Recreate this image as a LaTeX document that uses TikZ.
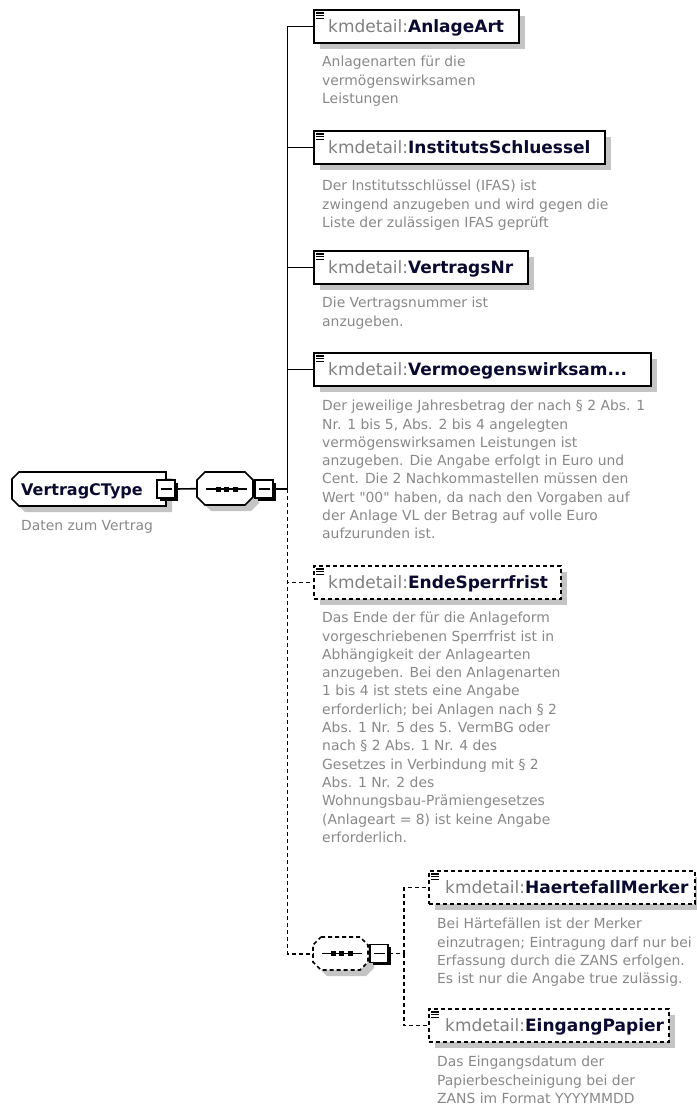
\documentclass[tikz,border=0pt]{standalone}
\usepackage{fontspec}
\setmainfont{DejaVu Sans}
\newfontfamily\dejavu{DejaVu Sans}
\usetikzlibrary{calc,shadows}
\definecolor{kmgray}{HTML}{808080}
\definecolor{namecol}{HTML}{0A0A30}
\definecolor{desccol}{HTML}{888888}
\definecolor{shadowgray}{HTML}{C4C4C4}
\tikzset{
  elbox/.style={rectangle, draw=black, line width=1.7pt, fill=white, inner sep=0pt,
    anchor=north west, minimum height=33pt,
    drop shadow={shadow xshift=6pt, shadow yshift=-6pt, fill=shadowgray, opacity=1}},
  optbox/.style={elbox, dash pattern=on 4pt off 3pt},
  minusbox/.style={rectangle, draw=black, line width=1.4pt, fill=white, inner sep=0pt,
    minimum size=18pt,
    drop shadow={shadow xshift=2.5pt, shadow yshift=-2.5pt, fill=black, opacity=1}},
  holder/.style={rectangle, draw=none, inner sep=0pt, anchor=north west},
  conn/.style={line width=1.6pt},
  dconn/.style={line width=1.6pt, dash pattern=on 4pt off 3pt},
  icon/.style={line width=1.1pt},
  titletxt/.style={inner sep=0pt, anchor=base west, font=\dejavu\fontsize{17}{20}\selectfont},
  desctxt/.style={inner sep=0pt, anchor=north west, align=left, text=desccol,
    font=\dejavu\fontsize{13.9}{18.3}\selectfont},
}
\newcommand\eqicon[1]{%
  \draw[icon] ($(#1.north west)+(3,4)$) -- +(8,0)
              ($(#1.north west)+(3,6.7)$) -- +(8,0)
              ($(#1.north west)+(3,9.4)$) -- +(8,0);}
\newcommand\kmtitle[1]{\textcolor{kmgray}{kmdetail:}\textcolor{namecol}{\bfseries #1}}
\begin{document}
\begin{tikzpicture}[x=1pt,y=-1pt]
\useasboundingbox (0,0) rectangle (696,1108);

% ---------- root ----------
\node[holder, minimum width=154pt, minimum height=34pt] (root) at (12,472) {};
\fill[shadowgray] (25,478) -- (172,478) -- (172,512) -- (25,512) -- (18,505) -- (18,485) -- cycle;
\draw[line width=1.7pt, fill=white] (19,472) -- (166,472) -- (166,506) -- (19,506) -- (12,499) -- (12,479) -- cycle;
\node[inner sep=0pt, anchor=base west, font=\dejavu\fontsize{16}{19}\selectfont\bfseries, text=namecol] (roottxt) at (21,495) {VertragCType};
\node[desctxt] (rootdesc) at (21,520) {Daten zum Vertrag};
\node[minusbox] (rootm) at (166,489) {};
\draw[line width=1.4pt] ($(rootm.center)+(-5.5,0)$) -- ($(rootm.center)+(5.5,0)$);

% ---------- sequence 1 ----------
\node[holder, minimum width=56pt, minimum height=33pt] (seq1) at (197,472) {};
\fill[shadowgray] (211,478) -- (253,478) -- (259,484) -- (259,503) -- (251,511) -- (211,511) -- (203,503) -- (203,484) -- cycle;
\draw[line width=1.6pt, fill=white] (205,472) -- (245,472) -- (253,480) -- (253,497) -- (245,505) -- (205,505) -- (197,497) -- (197,480) -- cycle;
\draw[line width=1.5pt] (206,489) -- (247,489);
\foreach \d in {218,226.5,235} \fill (\d-2.5,486.5) rectangle (\d+2.5,491.5);
\node[minusbox] (seq1m) at (264,489) {};
\draw[line width=1.4pt] ($(seq1m.center)+(-5.5,0)$) -- ($(seq1m.center)+(5.5,0)$);

\draw[conn] (rootm.east) -- (seq1.west);
\coordinate (trunk) at (287.5,489);
\draw[conn] (seq1m.east) -- (trunk);

% ---------- AnlageArt ----------
\node[elbox, minimum width=205pt] (anl) at (313,9) {};
\eqicon{anl}
\node[titletxt] (anlt) at ($(anl.north west)+(15,23.5)$) {\kmtitle{AnlageArt}};
\node[desctxt] (anld) at (322,56) {Anlagenarten für die\\vermögenswirksamen\\Leistungen};

% ---------- InstitutsSchluessel ----------
\node[elbox, minimum width=291pt] (ins) at (313,130) {};
\eqicon{ins}
\node[titletxt] (inst) at ($(ins.north west)+(15,23.5)$) {\kmtitle{InstitutsSchluessel}};
\node[desctxt] (insd) at (322,180) {Der Institutsschlüssel (IFAS) ist\\zwingend anzugeben und wird gegen die\\Liste der zulässigen IFAS geprüft};

% ---------- VertragsNr ----------
\node[elbox, minimum width=214pt] (vnr) at (313,250) {};
\eqicon{vnr}
\node[titletxt] (vnrt) at ($(vnr.north west)+(15,23.5)$) {\kmtitle{VertragsNr}};
\node[desctxt] (vnrd) at (322,297) {Die Vertragsnummer ist\\anzugeben.};

% ---------- Vermoegenswirksam ----------
\node[elbox, minimum width=337pt] (vwl) at (313,352) {};
\eqicon{vwl}
\node[titletxt] (vwlt) at ($(vwl.north west)+(15,23.5)$) {\kmtitle{Vermoegenswirksam...}};
\node[desctxt] (vwld) at (322,400) {Der jeweilige Jahresbetrag der nach § 2 Abs. 1\\Nr. 1 bis 5, Abs. 2 bis 4 angelegten\\vermögenswirksamen Leistungen ist\\anzugeben. Die Angabe erfolgt in Euro und\\Cent. Die 2 Nachkommastellen müssen den\\Wert "00" haben, da nach den Vorgaben auf\\der Anlage VL der Betrag auf volle Euro\\aufzurunden ist.};

% ---------- EndeSperrfrist ----------
\node[optbox, minimum width=247pt] (ende) at (313,565) {};
\eqicon{ende}
\node[titletxt] (endet) at ($(ende.north west)+(15,23.5)$) {\kmtitle{EndeSperrfrist}};
\node[desctxt] (ended) at (322,612) {Das Ende der für die Anlageform\\vorgeschriebenen Sperrfrist ist in\\Abhängigkeit der Anlagearten\\anzugeben. Bei den Anlagenarten\\1 bis 4 ist stets eine Angabe\\erforderlich; bei Anlagen nach § 2\\Abs. 1 Nr. 5 des 5. VermBG oder\\nach § 2 Abs. 1 Nr. 4 des\\Gesetzes in Verbindung mit § 2\\Abs. 1 Nr. 2 des\\Wohnungsbau-Prämiengesetzes\\(Anlageart = 8) ist keine Angabe\\erforderlich.};

% ---------- sequence 2 ----------
\node[holder, minimum width=55pt, minimum height=33pt] (seq2) at (313,937) {};
\fill[shadowgray] (327,943) -- (366,943) -- (374,951) -- (374,968) -- (366,976) -- (327,976) -- (319,968) -- (319,951) -- cycle;
\draw[line width=1.6pt, fill=white, dash pattern=on 4pt off 3pt] (321,937) -- (360,937) -- (368,945) -- (368,962) -- (360,970) -- (321,970) -- (313,962) -- (313,945) -- cycle;
\draw[line width=1.5pt] (322,953.5) -- (362,953.5);
\foreach \d in {333,341.5,350} \fill (\d-2.5,951) rectangle (\d+2.5,956);
\node[minusbox] (seq2m) at (379,953.5) {};
\draw[line width=1.4pt] ($(seq2m.center)+(-5.5,0)$) -- ($(seq2m.center)+(5.5,0)$);

% ---------- HaertefallMerker ----------
\node[optbox, minimum width=266pt] (hfm) at (428,870) {};
\eqicon{hfm}
\node[titletxt] (hfmt) at ($(hfm.north west)+(17,23.5)$) {\kmtitle{HaertefallMerker}};
\node[desctxt] (hfmd) at (437,918) {Bei Härtefällen ist der Merker\\einzutragen; Eintragung darf nur bei\\Erfassung durch die ZANS erfolgen.\\Es ist nur die Angabe true zulässig.};

% ---------- EingangPapier ----------
\node[optbox, minimum width=240pt] (eing) at (428,1008) {};
\eqicon{eing}
\node[titletxt] (eingt) at ($(eing.north west)+(17,23.5)$) {\kmtitle{EingangPapier}};
\node[desctxt] (eingd) at (437,1056) {Das Eingangsdatum der\\Papierbescheinigung bei der\\ZANS im Format YYYYMMDD};

% ---------- connectors ----------
\draw[conn] (trunk) |- (anl.west);
\draw[conn] (trunk) |- (ins.west);
\draw[conn] (trunk) |- (vnr.west);
\draw[conn] (trunk) |- (vwl.west);
\draw[dconn] (trunk) |- (ende.west);
\draw[dconn] (trunk) |- (seq2.west);
\coordinate (sub) at (404,953.5);
\draw[dconn] (seq2m.east) -- (sub);
\draw[dconn] (sub) |- (hfm.west);
\draw[dconn] (sub) |- (eing.west);
\end{tikzpicture}
\end{document}
